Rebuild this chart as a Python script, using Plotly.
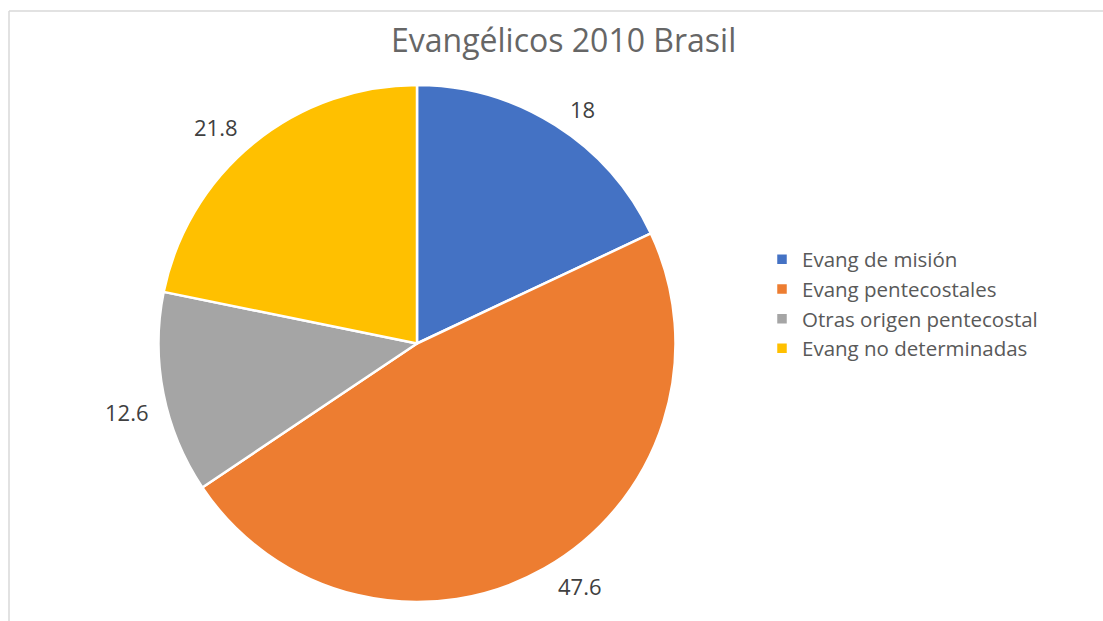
import plotly.graph_objects as go

# Chart data
categories = ["Evang de misión", "Evang pentecostales", "Otras origen pentecostal", "Evang no determinadas"]
values = [18, 47.6, 12.6, 21.8]
colors = ["#4472C4", "#ED7D31", "#A5A5A5", "#FFC000"]
title_text = "Evangélicos 2010 Brasil"

W, H = 1103, 621

# Pie geometry in pixels (centre and radius), converted to paper fractions
cx, cy, r = 417, 343.5, 258.5
dom_x = [(cx - r) / W, (cx + r) / W]
dom_y = [(H - (cy + r)) / H, (H - (cy - r)) / H]

fig = go.Figure(
    go.Pie(
        labels=categories,
        values=values,
        sort=False,
        direction="clockwise",
        rotation=0,
        marker=dict(colors=colors, line=dict(color="white", width=2.5)),
        textinfo="none",
        hoverinfo="label+value",
        domain=dict(x=dom_x, y=dom_y),
    )
)

# Data labels placed around the pie (pixel centres)
label_px = [(582.5, 108.5), (579.5, 585.5), (126.5, 412.5), (215.5, 126.5)]
annotations = []
for v, (px, py) in zip(values, label_px):
    annotations.append(
        dict(
            text=f"{v:g}",
            x=px / W,
            y=1 - py / H,
            xref="paper",
            yref="paper",
            xanchor="center",
            yanchor="middle",
            showarrow=False,
            font=dict(family="Open Sans", size=22, color="#404040"),
        )
    )

# Title
annotations.append(
    dict(
        text=title_text,
        x=563 / W,
        y=1 - 40 / H,
        xref="paper",
        yref="paper",
        xanchor="center",
        yanchor="middle",
        showarrow=False,
        font=dict(family="Open Sans", size=32, color="#666666"),
    )
)

# Thin frame along the top and left edges of the chart area
shapes = [
    dict(type="line", xref="paper", yref="paper", x0=9 / W, x1=1.0, y0=1 - 11 / H, y1=1 - 11 / H,
         line=dict(color="#D9D9D9", width=1.5)),
    dict(type="line", xref="paper", yref="paper", x0=9 / W, x1=9 / W, y0=0, y1=1 - 11 / H,
         line=dict(color="#D9D9D9", width=1.5)),
]

fig.update_layout(
    width=W,
    height=H,
    margin=dict(l=0, r=0, t=0, b=0),
    paper_bgcolor="white",
    plot_bgcolor="white",
    showlegend=True,
    legend=dict(
        x=762 / W,
        y=1 - 304 / H,
        xanchor="left",
        yanchor="middle",
        font=dict(family="Open Sans", size=20.5, color="#595959"),
        bgcolor="rgba(0,0,0,0)",
        traceorder="normal",
    ),
    annotations=annotations,
    shapes=shapes,
)

fig.write_html("out.html")
